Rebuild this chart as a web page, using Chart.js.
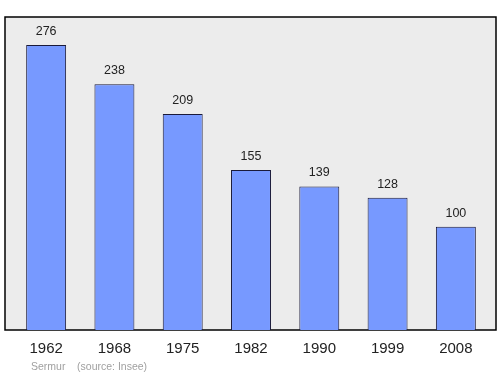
<!DOCTYPE html>
<html><head><meta charset="utf-8">
<script src="https://cdn.jsdelivr.net/npm/chart.js@4/dist/chart.umd.min.js"></script>
<style>html,body{margin:0;padding:0;background:#fff}#wrap{width:500px;height:374px}</style>
</head><body><div id="wrap"><canvas id="c" width="500" height="374"></canvas></div>
<script>
const years = ["1962","1968","1975","1982","1990","1999","2008"];
const population = [276,238,209,155,139,128,100];
const sourceLabel = "Sermur    (source: Insee)";
const FONT = "'Liberation Sans', Arial, sans-serif";

const boxPlugin = {
  id:'box',
  beforeDraw(chart){
    const {ctx, chartArea:a} = chart;
    ctx.save();
    ctx.fillStyle = '#ececec';
    ctx.strokeStyle = '#000';
    ctx.lineWidth = 1.5;
    ctx.beginPath();
    ctx.rect(a.left-7, a.top, (a.right+6)-(a.left-7), a.bottom-a.top);
    ctx.fill(); ctx.stroke();
    ctx.restore();
  },
  afterDatasetsDraw(chart){
    const {ctx, chartArea:a} = chart;
    const meta = chart.getDatasetMeta(0);
    ctx.save();
    ctx.fillStyle = '#222';
    ctx.font = '12.5px ' + FONT;
    ctx.textAlign = 'center';
    ctx.textBaseline = 'alphabetic';
    meta.data.forEach((bar,i)=>{
      ctx.fillText(String(population[i]), bar.x, bar.y - 10);
    });
    ctx.fillStyle = '#a0a0a0';
    ctx.font = '10.5px ' + FONT;
    ctx.textAlign = 'left';
    ctx.fillText(sourceLabel, a.left + 19, 370);
    ctx.restore();
  }
};

new Chart(document.getElementById('c'), {
  type:'bar',
  data:{labels:years, datasets:[{data:population, backgroundColor:'#7799ff', borderColor:'#1a1a3a', borderWidth:1, borderSkipped:'bottom', barPercentage:0.585, categoryPercentage:1}]},
  options:{
    responsive:false, animation:false,
    layout:{padding:{left:12, right:10, top:17, bottom:0}},
    plugins:{legend:{display:false}, tooltip:{enabled:false}},
    scales:{
      y:{display:false, min:0, max:303},
      x:{grid:{display:false, drawTicks:false}, border:{display:false},
         ticks:{color:'#222', font:{size:15, family:FONT}, padding:10},
         afterFit(s){ s.height = 44; }}
    }
  },
  plugins:[boxPlugin]
});
</script></body></html>
